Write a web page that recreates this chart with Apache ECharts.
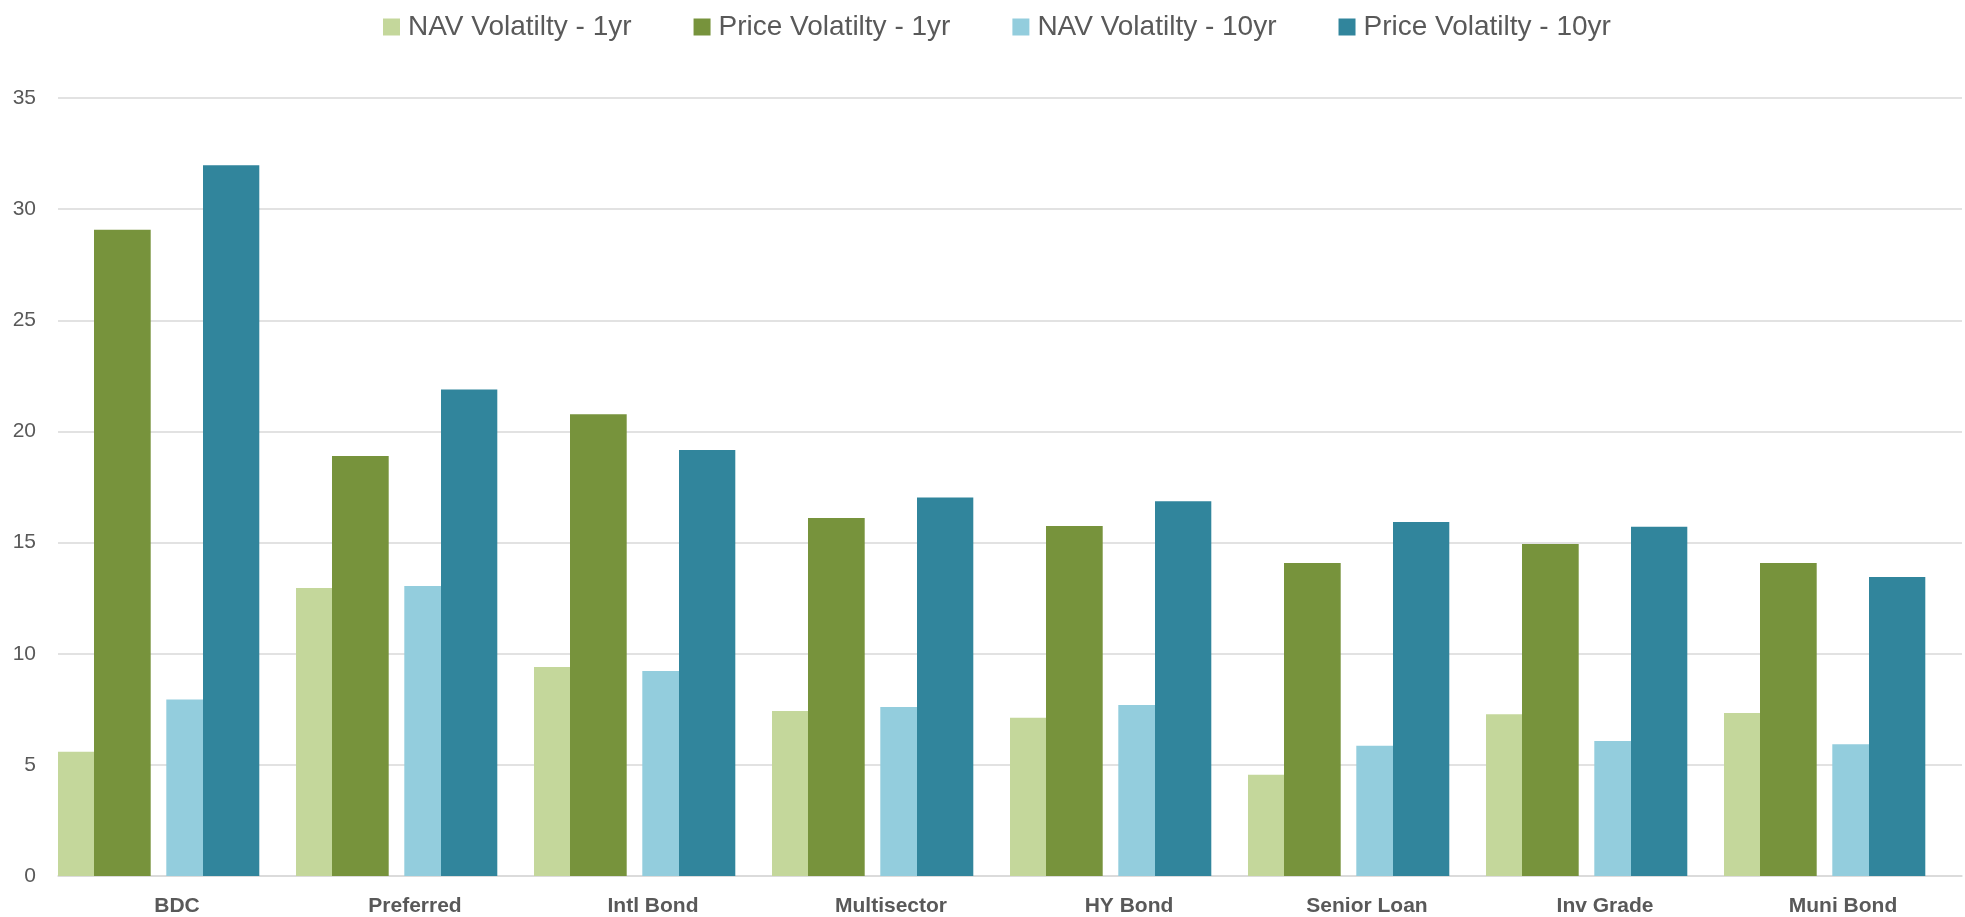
<!DOCTYPE html>
<html>
<head>
<meta charset="utf-8">
<script src="https://cdn.jsdelivr.net/npm/echarts@6/dist/echarts.min.js"></script>
<style>
html,body{margin:0;padding:0;background:#fff;}
#chart{width:1965px;height:917px;}
</style>
</head>
<body>
<div id="chart"></div>
<script>
const categories = ['BDC', 'Preferred', 'Intl Bond', 'Multisector', 'HY Bond', 'Senior Loan', 'Inv Grade', 'Muni Bond'];
const navVol1yr    = [5.59, 12.96, 9.40, 7.42, 7.12, 4.55, 7.28, 7.33];
const priceVol1yr  = [29.07, 18.90, 20.77, 16.10, 15.74, 14.08, 14.94, 14.08];
const navVol10yr   = [7.94, 13.05, 9.22, 7.60, 7.69, 5.86, 6.07, 5.93];
const priceVol10yr = [31.97, 21.89, 19.16, 17.03, 16.86, 15.93, 15.71, 13.45];
const seriesNames = ['NAV Volatilty - 1yr', 'Price Volatilty - 1yr', 'NAV Volatilty - 10yr', 'Price Volatilty - 10yr'];
const yMin = 0, yMax = 35, yStep = 5;

const textColor = '#595959';
const font = 'Liberation Sans';

function barSeries(name, data, color, width) {
  return {
    name: name, type: 'bar', data: data, barWidth: width, barGap: 0,
    itemStyle: { color: color }, emphasis: { disabled: true }
  };
}
function spacer(id, width) {
  return {
    name: id, type: 'bar', data: categories.map(() => null), barWidth: width, barGap: 0,
    silent: true, itemStyle: { color: 'transparent' }
  };
}

const chart = echarts.init(document.getElementById('chart'), null, { renderer: 'canvas' });
chart.setOption({
  animation: false,
  backgroundColor: '#ffffff',
  legend: {
    data: seriesNames,
    left: 378, top: 8,
    itemWidth: 17, itemHeight: 17, itemGap: 62,
    icon: 'rect',
    textStyle: { color: textColor, fontSize: 28, fontFamily: font, padding: [0, 0, 0, 3] }
  },
  grid: { left: 58, right: 3, top: 98, bottom: 41, containLabel: false },
  xAxis: {
    type: 'category', data: categories,
    axisLine: { lineStyle: { color: '#d9d9d9', width: 1.5 } },
    axisTick: { show: false },
    axisLabel: { color: textColor, fontSize: 21, fontWeight: 'bold', fontFamily: font, margin: 20 }
  },
  yAxis: {
    type: 'value', min: yMin, max: yMax, interval: yStep,
    axisLine: { show: false }, axisTick: { show: false },
    splitLine: { lineStyle: { color: '#d9d9d9', width: 1.5 } },
    axisLabel: { color: textColor, fontSize: 21, fontFamily: font, margin: 22 }
  },
  series: [
    barSeries(seriesNames[0], navVol1yr, '#c4d79b', 36),
    barSeries(seriesNames[1], priceVol1yr, '#77933c', 56.7),
    spacer('gap-mid', 15.6),
    barSeries(seriesNames[2], navVol10yr, '#93cddd', 36.7),
    barSeries(seriesNames[3], priceVol10yr, '#31859c', 56.3),
    spacer('gap-end', 36.7)
  ]
});
</script>
</body>
</html>
